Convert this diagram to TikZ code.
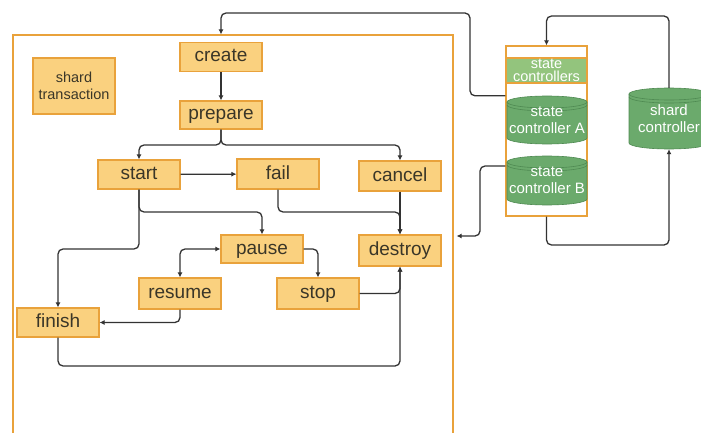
\documentclass[tikz,border=0pt]{standalone}
\usepackage{fontspec}
\setmainfont{Liberation Sans}
\usetikzlibrary{arrows.meta}
\definecolor{ofill}{HTML}{FAD17F}
\definecolor{oline}{HTML}{E9A23B}
\definecolor{gfill}{HTML}{6BAA6C}
\definecolor{gline}{HTML}{4F8A52}
\definecolor{lgfill}{HTML}{93C47D}
\definecolor{ink}{HTML}{333333}
\definecolor{btext}{HTML}{3A3628}
\begin{document}
\begin{tikzpicture}[x=1pt,y=-1pt,
  obox/.style={draw=oline,line width=1.1pt,fill=ofill,minimum width=82pt,minimum height=29pt,inner sep=0pt,font=\fontsize{19}{20}\selectfont,text=btext,text height=13pt,text depth=3pt},
  gtext/.style={inner sep=0pt,align=center,text=white,font=\fontsize{15}{17}\selectfont},
  arr/.style={draw=ink,line width=1.3pt,rounded corners=5pt,-{Latex[length=5pt,width=5pt]}},
  cylfill/.style={fill=gfill},
  cylline/.style={draw=gline,line width=0.6pt}]
\useasboundingbox (0,0) rectangle (701,433);
% frame
\node[draw=oline,line width=1.2pt,minimum width=440pt,minimum height=410pt,inner sep=0pt] (frame) at (233,240) {};
% nodes
\node[obox] (create) at (221,57) {create};
\node[obox,minimum height=56pt,align=center,font=\fontsize{14.5}{16.5}\selectfont,text height=,text depth=] (trans) at (74,86) {shard\\transaction};
\node[obox,minimum height=28pt] (prepare) at (221,115) {prepare};
\node[obox] (start) at (139,174.5) {start};
\node[obox,minimum height=30pt] (fail) at (278,174) {fail};
\node[obox,minimum height=30pt] (cancel) at (400,176) {cancel};
\node[obox,minimum height=28pt] (pause) at (262,249) {pause};
\node[obox,minimum height=31pt] (destroy) at (400,250.5) {destroy};
\node[obox,minimum height=31pt] (resume) at (180,293.5) {resume};
\node[obox,minimum height=31pt] (stop) at (318,293.5) {stop};
\node[obox] (finish) at (58,322.5) {finish};
% right container
\node[draw=oline,line width=1.2pt,fill=white,minimum width=81pt,minimum height=170pt,inner sep=0pt] (cont) at (546.5,131) {};
\node[draw=oline,line width=1.2pt,fill=lgfill,minimum width=81pt,minimum height=25pt,inner sep=0pt,gtext,font=\fontsize{14.5}{13}\selectfont] (scs) at (546.5,70.5) {state\\controllers};
% cylinders
\foreach \cx/\t/\b in {547/96/144, 547/156/205, 669/88/149}{
  \fill[cylfill] (\cx-40,\t+6) rectangle (\cx+40,\b-6);
  \fill[cylfill] (\cx,\b-6) ellipse[x radius=40,y radius=6];
  \draw[cylline] (\cx-40,\t+6) -- (\cx-40,\b-6) arc[start angle=180,end angle=0,x radius=40,y radius=6] -- (\cx+40,\t+6);
  \filldraw[cylfill,cylline] (\cx,\t+6) ellipse[x radius=40,y radius=6];
  \draw[cylline] (\cx-40,\t+9) arc[start angle=180,end angle=0,x radius=40,y radius=6];
}
\node[gtext,minimum width=80pt,minimum height=48pt] (scA) at (547,120) {state\\controller A};
\node[gtext,minimum width=80pt,minimum height=49pt] (scB) at (547,180.5) {state\\controller B};
\node[gtext,minimum width=80pt,minimum height=61pt] (shard) at (669,118.5) {shard\\controller};
% outer connectors
\draw[arr] (cont.west |- scA.north) -| (470,13) -| (create.north |- frame.north);
\draw[arr] (cont.west |- 0,166) -| (480,236) -- ([xshift=3pt]frame.east |- 0,236);
\draw[arr] (cont.south) |- (600,245) -| (shard.south);
\draw[arr] (shard.north) |- (600,16) -| (cont.north);
% inner connectors
\draw[arr] (create) -- (prepare);
\draw[arr] (prepare.south) |- (180,145) -| (start.north);
\draw[arr] (prepare.south) |- (300,145) -| (cancel.north);
\draw[arr] (start) -- (fail);
\draw[arr] (start.south) |- (200,212) -| (pause.north);
\draw[arr] (start.south) |- (100,249) -| (finish.north);
\draw[arr] (fail.south) |- (340,212) -| (destroy.north);
\draw[arr] (cancel) -- (destroy);
\draw[arr,{Latex[length=5pt,width=5pt]}-{Latex[length=5pt,width=5pt]}] (pause.west) -| (resume.north);
\draw[arr] (pause.east) -| (stop.north);
\draw[arr] (stop.east) -| (destroy.south);
\draw[arr] (resume.south) |- (finish.east);
\draw[arr] (finish.south) |- (200,366) -| (destroy.south);
\end{tikzpicture}
\end{document}
